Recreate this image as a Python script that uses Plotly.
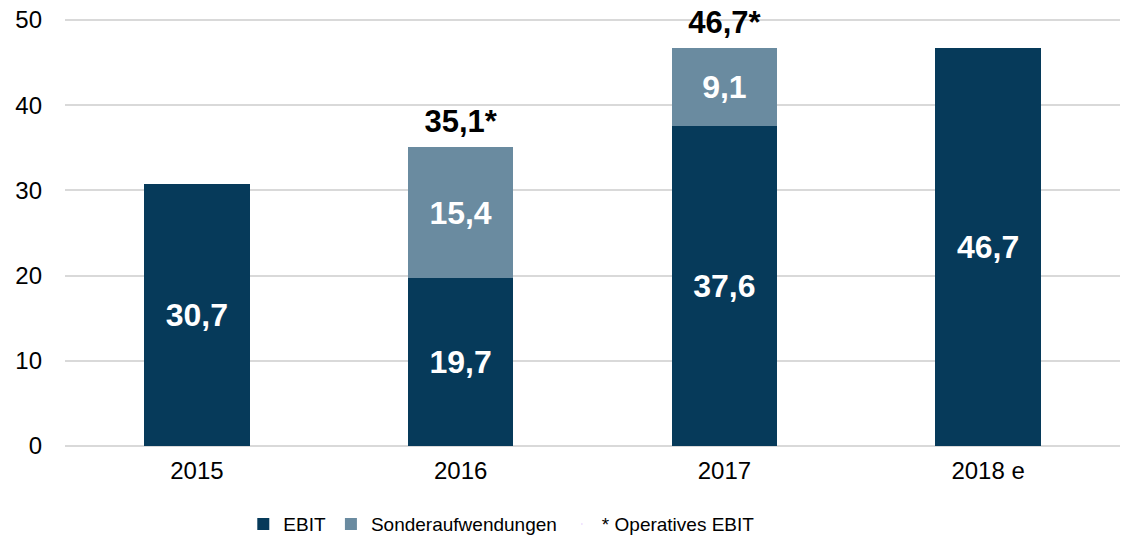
import plotly.graph_objects as go

categories = ["2015", "2016", "2017", "2018 e"]
ebit = [30.7, 19.7, 37.6, 46.7]
sonder = [None, 15.4, 9.1, None]
operativ = [None, 35.1, 46.7, None]
operativ_labels = ["", "35,1*", "46,7*", ""]

DARK = "#063A5A"
LIGHT = "#6A8BA0"
FONT = "Liberation Sans, Arial, sans-serif"

fig = go.Figure()
fig.add_trace(go.Bar(
    x=categories, y=ebit, name="EBIT", marker=dict(color=DARK, line=dict(width=0)),
    texttemplate="%{y:.1f}", textposition="inside", insidetextanchor="middle",
    textfont=dict(family=FONT, size=32, color="white", weight="bold"),
))
fig.add_trace(go.Bar(
    x=categories, y=sonder, name="Sonderaufwendungen", marker=dict(color=LIGHT, line=dict(width=0)),
    texttemplate="%{y:.1f}", textposition="inside", insidetextanchor="middle",
    textfont=dict(family=FONT, size=32, color="white", weight="bold"),
))
fig.add_trace(go.Scatter(
    x=categories, y=operativ, mode="markers+text", text=operativ_labels,
    marker=dict(size=10, opacity=0),
    textposition="top center", showlegend=False, hoverinfo="skip", cliponaxis=False,
    textfont=dict(family=FONT, size=31, color="black", weight="bold"),
))
fig.add_trace(go.Scatter(
    x=[categories[0]], y=[None], mode="markers", name="* Operatives EBIT",
    marker=dict(opacity=0, size=1), hoverinfo="skip",
))

fig.update_layout(
    width=1132, height=539, barmode="stack", bargap=0.6,
    separators=",.",
    plot_bgcolor="white", paper_bgcolor="white",
    margin=dict(l=65, r=12, t=19, b=93, autoexpand=False),
    font=dict(family=FONT, size=20, color="black"),
    legend=dict(orientation="h", x=0.169, xanchor="left", y=-0.183, yanchor="middle",
                font=dict(size=19), itemwidth=30, traceorder="normal"),
)
fig.update_yaxes(range=[0, 50.12], tickvals=[0, 10, 20, 30, 40, 50], showgrid=True,
                 gridcolor="#D9D9D9", gridwidth=2,
                 zeroline=True, zerolinecolor="#D9D9D9", zerolinewidth=2, automargin=False,
                 tickfont=dict(size=24), ticks="", ticklabelstandoff=22)
fig.update_xaxes(type="category", categoryorder="array", categoryarray=categories,
                 showgrid=False, tickfont=dict(size=24), ticks="", ticklabelstandoff=8,
                 automargin=False)

fig.write_html("out.html", post_script="document.body.style.margin='0';",
               config={"displayModeBar": False})
